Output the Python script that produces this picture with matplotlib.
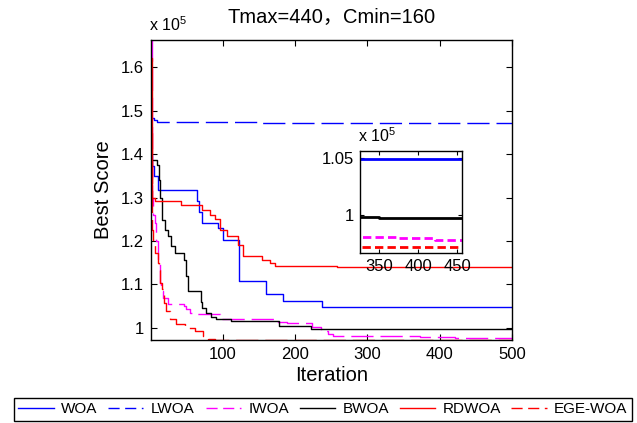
import matplotlib
matplotlib.use("Agg")
import matplotlib.pyplot as plt
from matplotlib.lines import Line2D

# ---------------- data (values in units of 1e5) ----------------
WOA_it = [1, 3, 5, 10, 64, 67, 72, 93, 101, 123, 160, 184, 237, 500]
WOA_val = [1.400, 1.372, 1.350, 1.318, 1.292, 1.268, 1.242, 1.230, 1.203,
           1.108, 1.077, 1.0616, 1.049, 1.049]

LWOA_it = [1, 5, 9, 150, 500]
LWOA_val = [1.483, 1.478, 1.475, 1.472, 1.472]

IWOA_it = [1, 2, 4, 6, 8, 11, 13, 15, 18, 25, 46, 50, 55, 64, 96, 175, 189,
           223, 236, 246, 253, 373, 421, 500]
IWOA_val = [1.663, 1.30, 1.26, 1.242, 1.20, 1.15, 1.104, 1.085, 1.07, 1.056,
            1.050, 1.0425, 1.035, 1.031, 1.0195, 1.0133, 1.012, 1.003, 0.993,
            0.985, 0.9806, 0.9794, 0.9779, 0.9779]

BWOA_it = [1, 9, 12, 14, 16, 20, 24, 28, 34, 47, 49, 52, 70, 72, 77, 84, 91,
           112, 178, 222, 350, 500]
BWOA_val = [1.387, 1.376, 1.341, 1.30, 1.249, 1.226, 1.211, 1.188, 1.173,
            1.157, 1.119, 1.084, 1.060, 1.046, 1.035, 1.026, 1.0195, 1.015,
            1.004, 0.9986, 0.9976, 0.9976]

RDWOA_it = [1, 2, 3, 6, 43, 71, 82, 89, 96, 106, 121, 128, 155, 165, 172,
            258, 500]
RDWOA_val = [1.622, 1.40, 1.30, 1.293, 1.284, 1.2725, 1.261, 1.25, 1.226,
             1.211, 1.192, 1.165, 1.157, 1.150, 1.1437, 1.140, 1.140]

EGE_it = [1, 2, 3, 4, 5, 7, 10, 12, 14, 16, 19, 22, 27, 36, 48, 62, 73, 80,
          90, 500]
EGE_val = [1.45, 1.27, 1.226, 1.2034, 1.196, 1.173, 1.15, 1.134, 1.104,
           1.0885, 1.058, 1.0386, 1.0195, 1.008, 0.9989, 0.9926, 0.981, 0.975,
           0.9722, 0.9722]

labels = ["WOA", "LWOA", "IWOA", "BWOA", "RDWOA", "EGE-WOA"]
title_text = "Tmax=440，Cmin=160"
x_ticks = [100, 200, 300, 400, 500]
y_ticks = [1.0, 1.1, 1.2, 1.3, 1.4, 1.5, 1.6]
y_ticklabels = ["1", "1.1", "1.2", "1.3", "1.4", "1.5", "1.6"]
inset_xticks = [350, 400, 450]
inset_yticks = [1.0, 1.05]
inset_yticklabels = ["1", "1.05"]

# ---------------- fonts ----------------
base = "Liberation Sans"
plt.rcParams['font.family'] = [base, 'Noto Sans CJK SC', 'DejaVu Sans']
plt.rcParams['mathtext.fontset'] = 'custom'
plt.rcParams['mathtext.rm'] = base

W, H = 637, 423
fig = plt.figure(figsize=(W / 100, H / 100), dpi=100)

def fx(px):
    return px / W

def fy(py):
    return 1 - py / H

L, R, T, B = 151, 512, 40, 340
ax = fig.add_axes([fx(L), fy(B), fx(R - L), (B - T) / H])

MAIN_DASH = (0, (16, 5))
series = [
    (WOA_it, WOA_val, 'blue', '-'),
    (LWOA_it, LWOA_val, 'blue', MAIN_DASH),
    (IWOA_it, IWOA_val, 'magenta', MAIN_DASH),
    (BWOA_it, BWOA_val, 'black', '-'),
    (RDWOA_it, RDWOA_val, 'red', '-'),
    (EGE_it, EGE_val, 'red', MAIN_DASH),
]
handles = []
for (xs, ys, c, ls), lab in zip(series, labels):
    ax.plot(xs, ys, drawstyle='steps-post', lw=1.0, color=c, ls=ls)
    lls = '-' if ls == '-' else (0, (8, 4))
    handles.append(Line2D([], [], color=c, ls=lls, lw=1.0))

ax.set_xlim(1, 500)
ax.set_ylim(0.9722, 1.663)
ax.set_xticks(x_ticks)
ax.set_yticks(y_ticks)
ax.set_yticklabels(y_ticklabels)
ax.tick_params(direction='in', top=True, right=True, length=4, width=0.8,
               labelsize=12, pad=5)
for s in ax.spines.values():
    s.set_linewidth(1.0)
ax.set_xlabel("Iteration", fontsize=14.5, labelpad=3)
ax.set_ylabel("Best Score", fontsize=14.5, labelpad=6)
ax.set_title(title_text, fontsize=14.5, pad=12)
fig.text(fx(149), fy(31), r"x 10$^5$", fontsize=11.5, ha='left', va='baseline')

# ---------------- inset ----------------
iL, iR, iT, iB = 360, 462, 151, 253
ins = fig.add_axes([fx(iL), fy(iB), fx(iR - iL), (iB - iT) / H])
INSET_DASH = (0, (3, 1.5))
inset_series = [
    (WOA_it, WOA_val, 'blue', '-'),
    (IWOA_it, IWOA_val, 'magenta', INSET_DASH),
    (BWOA_it, BWOA_val, 'black', '-'),
    (EGE_it, EGE_val, 'red', INSET_DASH),
]
for xs, ys, c, ls in inset_series:
    ins.plot(xs, ys, drawstyle='steps-post', lw=2.0, color=c, ls=ls)
ins.set_xlim(326, 456)
ins.set_ylim(0.9665, 1.0564)
ins.set_xticks(inset_xticks)
ins.set_yticks(inset_yticks)
ins.set_yticklabels(inset_yticklabels)
ins.tick_params(direction='in', top=True, right=True, length=3, width=0.8,
                labelsize=12, pad=4)
for s in ins.spines.values():
    s.set_linewidth(1.0)
fig.text(fx(358), fy(142), r"x 10$^5$", fontsize=11.5, ha='left', va='baseline')

# ---------------- legend ----------------
leg = fig.legend(handles=handles, labels=labels, ncol=6, loc='lower center',
                 bbox_to_anchor=(fx(323), fy(421)), fontsize=11,
                 handlelength=2.3, handletextpad=0.5, columnspacing=0.7,
                 borderpad=0.3, borderaxespad=0.0, fancybox=False,
                 framealpha=1, edgecolor='black')
leg.get_frame().set_linewidth(1.0)

fig.savefig("out.png", dpi=100)
